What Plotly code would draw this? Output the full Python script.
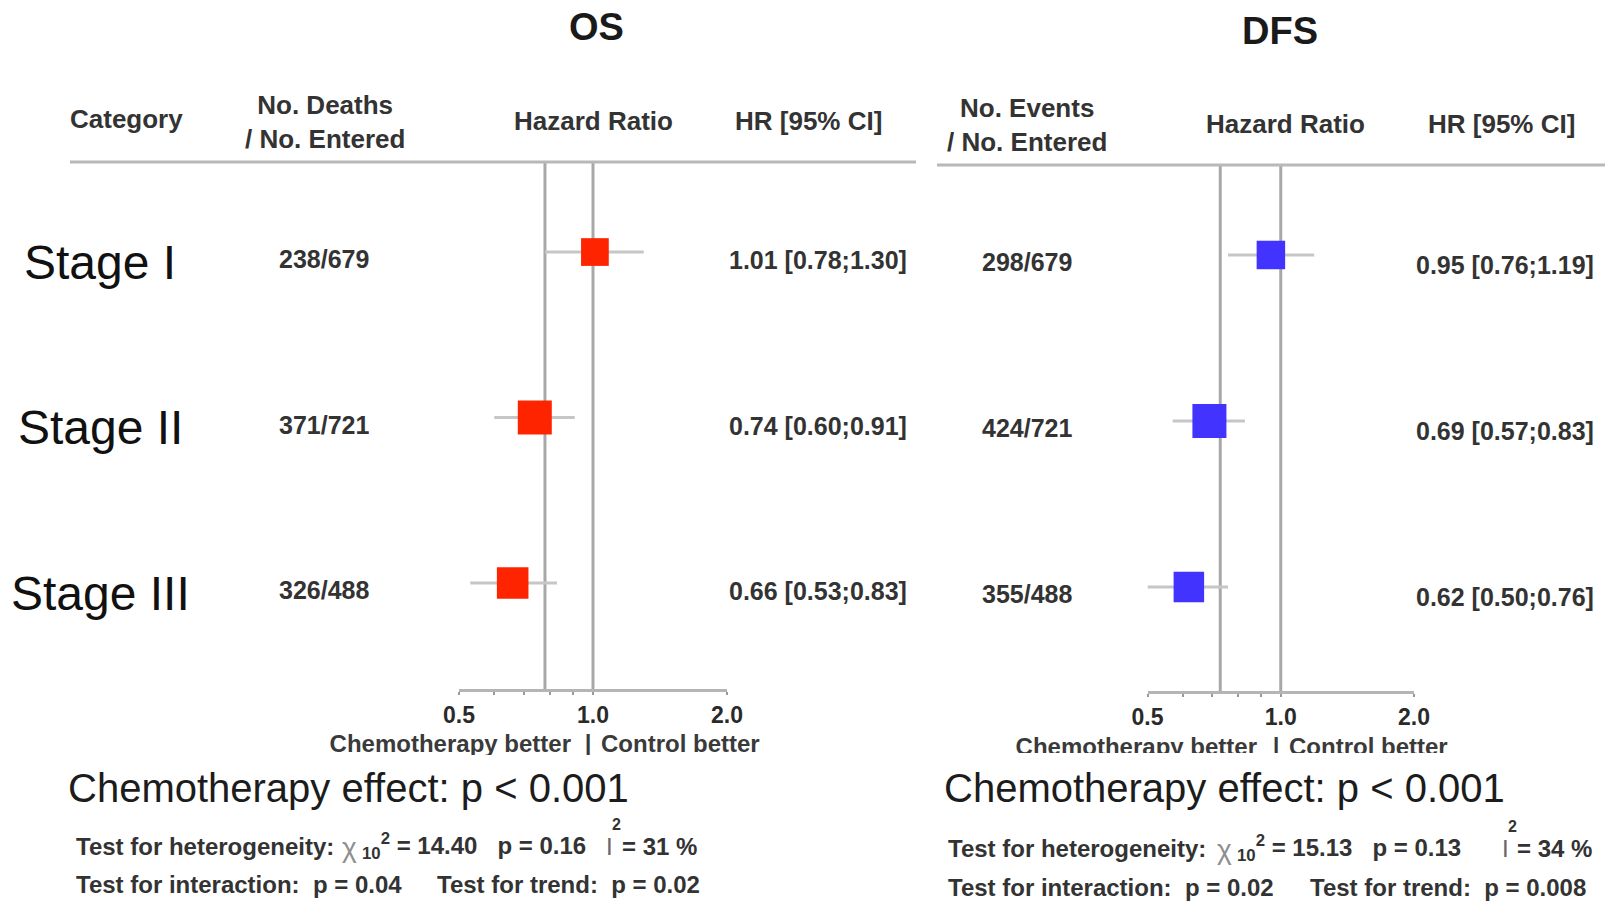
import math
import plotly.graph_objects as go

W, H = 1618, 913
FONT = "Liberation Sans"

# ---- data -------------------------------------------------------------
stages = ["Stage I", "Stage II", "Stage III"]
row_pos = [3, 2, 1]

os_deaths = [238, 371, 326]
os_entered = [679, 721, 488]
os_hr = [1.01, 0.74, 0.66]
os_lo = [0.78, 0.60, 0.53]
os_hi = [1.30, 0.91, 0.83]
os_overall = 0.78

dfs_events = [298, 424, 355]
dfs_entered = [679, 721, 488]
dfs_hr = [0.95, 0.69, 0.62]
dfs_lo = [0.76, 0.57, 0.50]
dfs_hi = [1.19, 0.83, 0.76]
dfs_overall = 0.73

tick_vals = [0.5, 0.6, 0.7, 0.8, 0.9, 1.0, 2.0]
tick_text = ["0.5", "", "", "", "", "1.0", "2.0"]

os_stats = {"chi": "14.40", "df": "10", "p_het": "0.16", "i2": "31", "p_int": "0.04", "p_trend": "0.02"}
dfs_stats = {"chi": "15.13", "df": "10", "p_het": "0.13", "i2": "34", "p_int": "0.02", "p_trend": "0.008"}
effect_text = "Chemotherapy effect: p < 0.001"

RED = "#ff2400"
BLUE = "#4333ff"
LINE_GREY = "#a8a8a8"
CI_GREY = "#c6c6c6"
TXT = "#333333"


def px(x):
    return x / W


def py(y):
    return 1 - y / H


def box_sizes(lo, hi, biggest=34):
    # box side proportional to 1/SE (sqrt of inverse-variance weight)
    inv = [3.92 / (math.log(h) - math.log(l)) for l, h in zip(lo, hi)]
    m = max(inv)
    return [biggest * v / m for v in inv]


fig = go.Figure()

panels = [
    dict(hr=os_hr, lo=os_lo, hi=os_hi, color=RED, xa="x", ya="y"),
    dict(hr=dfs_hr, lo=dfs_lo, hi=dfs_hi, color=BLUE, xa="x2", ya="y2"),
]
for p in panels:
    fig.add_trace(go.Scatter(
        x=p["hr"], y=row_pos, xaxis=p["xa"], yaxis=p["ya"],
        mode="markers",
        marker=dict(symbol="square", size=box_sizes(p["lo"], p["hi"]),
                    color=p["color"], opacity=1, line=dict(width=0)),
        error_x=dict(type="data", symmetric=False,
                     array=[h - v for h, v in zip(p["hi"], p["hr"])],
                     arrayminus=[v - l for v, l in zip(p["hr"], p["lo"])],
                     color=CI_GREY, thickness=3, width=0),
        cliponaxis=False, hoverinfo="skip", showlegend=False,
    ))

# "Chemotherapy better | Control better" labels, clipped along the bottom edge
better_rows = [
    (571, 588, 601, 746, "x3", "y3"),
    (1257, 1276, 1289, 748.5, "x4", "y4"),
]
for xl, xm, xr, yc, xa, ya in better_rows:
    fig.add_trace(go.Scatter(
        x=[xl, xm, xr], y=[yc, yc, yc], xaxis=xa, yaxis=ya,
        mode="text",
        text=["<b>Chemotherapy better</b>", "<b>|</b>", "<b>Control better</b>"],
        textposition=["middle left", "middle center", "middle right"],
        textfont=dict(family=FONT, size=24, color="#3a3a3a"),
        cliponaxis=True, hoverinfo="skip", showlegend=False,
    ))

axis_common = dict(
    type="log", range=[math.log10(0.5), math.log10(2.0)],
    tickvals=tick_vals, ticktext=tick_text,
    showgrid=False, zeroline=False, showline=True, automargin=False,
    linecolor="#b5b5b5", linewidth=3,
    ticks="outside", ticklen=3, tickwidth=2, tickcolor="#9a9a9a",
    tickfont=dict(family=FONT, size=23, color="#2a2a2a", weight="bold"),
    ticklabelstandoff=0, fixedrange=True,
)
hidden = dict(visible=False, showgrid=False, zeroline=False, fixedrange=True, automargin=False)

fig.update_layout(
    template="none",
    width=W, height=H, autosize=False,
    margin=dict(l=0, r=0, t=0, b=0, pad=0, autoexpand=False),
    paper_bgcolor="white", plot_bgcolor="rgba(0,0,0,0)",
    showlegend=False,
    xaxis=dict(domain=[px(459), px(727)], anchor="y", **axis_common),
    yaxis=dict(domain=[py(689), py(162)], range=[0.3595, 3.544], anchor="x", **hidden),
    xaxis2=dict(domain=[px(1147.5), px(1414)], anchor="y2", **axis_common),
    yaxis2=dict(domain=[py(691), py(165)], range=[0.3735, 3.542], anchor="x2", **hidden),
    xaxis3=dict(domain=[0, 0.5], range=[0, W / 2], anchor="y3", **hidden),
    yaxis3=dict(domain=[py(755), py(722)], range=[755, 722], anchor="x3", **hidden),
    xaxis4=dict(domain=[0.5, 1], range=[W / 2, W], anchor="y4", **hidden),
    yaxis4=dict(domain=[py(753), py(722)], range=[753, 722], anchor="x4", **hidden),
)

shapes = []
# reference lines at HR = 1 and at the overall estimate
for xr, yr, overall in (("x", "y", os_overall), ("x2", "y2", dfs_overall)):
    for v in (overall, 1.0):
        shapes.append(dict(type="line", xref=xr, yref=f"{yr} domain", x0=v, x1=v, y0=0, y1=1,
                           line=dict(color=LINE_GREY, width=3), layer="below"))
# header rules
shapes.append(dict(type="line", xref="paper", yref="paper", x0=px(70), x1=px(916), y0=py(162), y1=py(162),
                   line=dict(color="#b8b8b8", width=3)))
shapes.append(dict(type="line", xref="paper", yref="paper", x0=px(937), x1=px(1605), y0=py(165), y1=py(165),
                   line=dict(color="#b8b8b8", width=3)))
fig.update_layout(shapes=shapes)

ann = []


def add_text(text, x, y, size, anchor="center", bold=False, color=TXT, valign="middle",
             yref="paper", yshift=0, align="center"):
    ann.append(dict(
        text=f"<b>{text}</b>" if bold else text,
        x=px(x), y=py(y) if yref == "paper" else y, xref="paper", yref=yref,
        xanchor=anchor, yanchor=valign, yshift=yshift, showarrow=False, align=align,
        font=dict(family=FONT, size=size, color=color),
    ))


# titles
add_text("OS", 596, 27, 38, bold=True, color="#1a1a1a")
add_text("DFS", 1280, 31, 38, bold=True, color="#1a1a1a")

# column headers
add_text("Category", 126, 119, 26, bold=True)
add_text("No. Deaths<br>/ No. Entered", 325, 122, 26, bold=True)
add_text("Hazard Ratio", 593, 121, 26, bold=True)
add_text("HR [95% CI]", 808, 121, 26, bold=True)
add_text("No. Events<br>/ No. Entered", 1027, 125, 26, bold=True)
add_text("Hazard Ratio", 1285, 124, 26, bold=True)
add_text("HR [95% CI]", 1501, 124, 26, bold=True)

# per-row labels
for i, name in enumerate(stages):
    r = row_pos[i]
    add_text(name, 100, r, 48, color="#111111", yref="y", yshift=-10)
    add_text(f"{os_deaths[i]}/{os_entered[i]}", 324, r, 25, bold=True, yref="y", yshift=-7)
    add_text(f"{os_hr[i]:.2f} [{os_lo[i]:.2f};{os_hi[i]:.2f}]", 909, r, 25, anchor="right",
             bold=True, yref="y", yshift=-8)
    ann.append(dict(
        text=f"<b>{dfs_events[i]}/{dfs_entered[i]}</b>", x=px(1027), y=r, xref="paper", yref="y2",
        yshift=-7, showarrow=False, font=dict(family=FONT, size=25, color=TXT)))
    ann.append(dict(
        text=f"<b>{dfs_hr[i]:.2f} [{dfs_lo[i]:.2f};{dfs_hi[i]:.2f}]</b>", x=px(1596), y=r,
        xref="paper", yref="y2", xanchor="right", yshift=-10, showarrow=False,
        font=dict(family=FONT, size=25, color=TXT)))

# overall effect and heterogeneity tests
add_text(effect_text, 66, 788, 40, anchor="left", color="#1c1c1c")
add_text(effect_text, 942, 788, 40, anchor="left", color="#1c1c1c")

het_layout = [
    # (stats, left, y1, chi_x, rest_x, I_x, i2_x, y2, trend_x)
    (os_stats, 74, 846, 340, 360, 604, 620, 884, 435),
    (dfs_stats, 946, 848, 1215, 1235, 1500, 1515, 887, 1308),
]
for st, left, y1, chi_x, rest_x, i_x, i2_x, y2, trend_x in het_layout:
    add_text("Test for heterogeneity:", left, y1, 24, anchor="left", bold=True)
    add_text("χ", chi_x, y1 + 1, 28, anchor="left", color="#8f8f8f")
    # degrees of freedom and exponent of the chi-square statistic, then its value
    add_text(f"<sub>{st['df']}</sub><sup>2</sup> = {st['chi']}   p = {st['p_het']}",
             rest_x, y1, 24, anchor="left", bold=True)
    add_text("I", i_x, y1, 24, anchor="left", color="#666666")
    add_text("2", i_x + 6, y1 - 22, 16, anchor="left", bold=True)
    add_text(f"= {st['i2']} %", i2_x, y1, 24, anchor="left", bold=True)
    add_text(f"Test for interaction:  p = {st['p_int']}", left, y2, 24, anchor="left", bold=True)
    add_text(f"Test for trend:  p = {st['p_trend']}", trend_x, y2, 24, anchor="left", bold=True)

fig.update_layout(annotations=ann)

fig.write_html("out.html")
